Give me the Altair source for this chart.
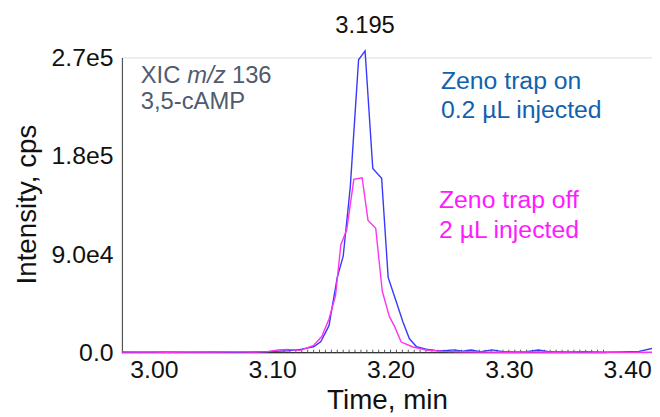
import altair as alt
import pandas as pd

# ---- data ----
blue_time = [2.973, 2.990, 3.010, 3.030, 3.050, 3.070, 3.085, 3.096, 3.113, 3.124,
             3.135, 3.141, 3.148, 3.155, 3.160, 3.166, 3.173, 3.1785, 3.185, 3.1925,
             3.198, 3.205, 3.2105, 3.216, 3.222, 3.230, 3.238, 3.246, 3.254, 3.261,
             3.268, 3.276, 3.286, 3.295, 3.305, 3.315, 3.325, 3.335, 3.350, 3.365,
             3.380, 3.395, 3.410, 3.421]
blue_val = [600, 400, 700, 500, 600, 400, 700, 1000, 1800, 3000,
            5400, 10000, 24700, 68900, 88200, 151600, 267900, 276000, 168500, 159500,
            68900, 46200, 28100, 12700, 5400, 3200, 2000, 1800, 2600, 1400,
            2500, 900, 2600, 1000, 700, 900, 2400, 800, 600, 900,
            500, 700, 1200, 3800]

pink_time = [2.973, 2.990, 3.010, 3.030, 3.050, 3.070, 3.085, 3.096, 3.105, 3.113,
             3.124, 3.135, 3.142, 3.148, 3.1535, 3.158, 3.163, 3.169, 3.176, 3.181,
             3.1875, 3.193, 3.199, 3.2035, 3.209, 3.219, 3.230, 3.245, 3.260, 3.280,
             3.300, 3.320, 3.340, 3.360, 3.380, 3.400, 3.421]
pink_val = [500, 700, 400, 600, 500, 700, 500, 1000, 2500, 3000,
            2100, 6600, 15000, 30800, 52000, 98800, 112400, 158500, 160000, 121000,
            113700, 56400, 33200, 23800, 9700, 5200, 2500, 1200, 800, 500,
            400, 600, 400, 500, 400, 300, 400]

x_ticks = [3.00, 3.10, 3.20, 3.30, 3.40]
y_ticks = [0, 90000, 180000, 270000]
minor_ticks = [round(3.110 + 0.005 * i, 3) for i in range(55)]
x_domain = [2.973, 3.421]
y_domain = [0, 270000]
axis_line_end = 3.383
peak_time = 3.1785
peak_label = "3.195"

FONT = "Liberation Sans"
W, H = 535, 298

df = pd.concat([
    pd.DataFrame({"time": blue_time, "intensity": blue_val, "series": "on"}),
    pd.DataFrame({"time": pink_time, "intensity": pink_val, "series": "off"}),
])

xscale = alt.Scale(domain=x_domain, nice=False, zero=False)
yscale = alt.Scale(domain=y_domain, nice=False)

lines = alt.Chart(df).mark_line(strokeWidth=1.4, clip=False).encode(
    x=alt.X("time:Q", scale=xscale,
            axis=alt.Axis(values=x_ticks, format=".2f", title="Time, min",
                          domain=False, ticks=False, grid=False,
                          labelFontSize=25, labelColor="#111", labelPadding=5,
                          labelFont=FONT, titleFont=FONT, titleFontSize=28,
                          titleFontWeight="normal", titleColor="#111",
                          titleBaseline="middle", titleY=48)),
    y=alt.Y("intensity:Q", scale=yscale,
            axis=alt.Axis(values=y_ticks, grid=False, ticks=False,
                          domainColor="#555", domainWidth=1.2,
                          labelExpr="datum.value == 0 ? '0.0' : replace(format(datum.value, '.1e'), 'e+', 'e')",
                          labelFontSize=25, labelColor="#111", labelPadding=9,
                          labelFont=FONT, titleFont=FONT, titleFontSize=28,
                          titleFontWeight="normal", titleColor="#111",
                          title="Intensity, cps", titleBaseline="middle",
                          titleX=-95, titleY=148, titleAngle=-90)),
    color=alt.Color("series:N", scale=alt.Scale(domain=["off", "on"],
                                                range=["#ff33ee", "#3838ff"]),
                    legend=None),
    order=alt.Order("time:Q"),
    detail="series:N",
)

base_line = alt.Chart(pd.DataFrame({"a": [x_domain[0]], "b": [axis_line_end]})).mark_rule(
    color="#333", strokeWidth=1.2).encode(
    x=alt.X("a:Q", scale=xscale), x2="b:Q", y=alt.value(H))

minor = alt.Chart(pd.DataFrame({"t": minor_ticks})).mark_rule(
    color="#555", strokeWidth=1).encode(
    x=alt.X("t:Q", scale=xscale), y=alt.value(H - 3), y2=alt.value(H))

peak_txt = alt.Chart(pd.DataFrame({"t": [peak_time], "s": [peak_label]})).mark_text(
    font=FONT, fontSize=24, color="#111", align="center", baseline="middle").encode(
    x=alt.X("t:Q", scale=xscale), y=alt.value(-32), text="s:N")

def label(text, x, y, color, style="normal", size=25):
    return alt.Chart(pd.DataFrame({"s": [text]})).mark_text(
        font=FONT, fontSize=size, color=color, align="left", baseline="alphabetic",
        fontStyle=style).encode(x=alt.value(x), y=alt.value(y), text="s:N")

GRAY = "#4f5b6e"
BLUE = "#1062ae"
PINK = "#ff1aff"

texts = [
    label("XIC", 19, 26, GRAY, size=24),
    label("m/z", 66, 26, GRAY, "italic", size=24),
    label("136", 111, 26, GRAY, size=24),
    label("3,5-cAMP", 19, 52, GRAY, size=24),
    label("Zeno trap on", 322, 32, BLUE),
    label("0.2 \u00b5L injected", 322, 61, BLUE),
    label("Zeno trap off", 320, 152, PINK),
    label("2 \u00b5L injected", 320, 182, PINK),
]

chart = alt.layer(base_line, minor, lines, peak_txt, *texts).properties(
    width=W, height=H,
    autosize=alt.AutoSizeParams(type="none"),
    padding={"left": 115, "top": 48, "right": 0, "bottom": 62},
).configure_view(stroke=None).configure(font=FONT)

chart.save("out.html", embed_options={"renderer": "svg", "actions": False})
